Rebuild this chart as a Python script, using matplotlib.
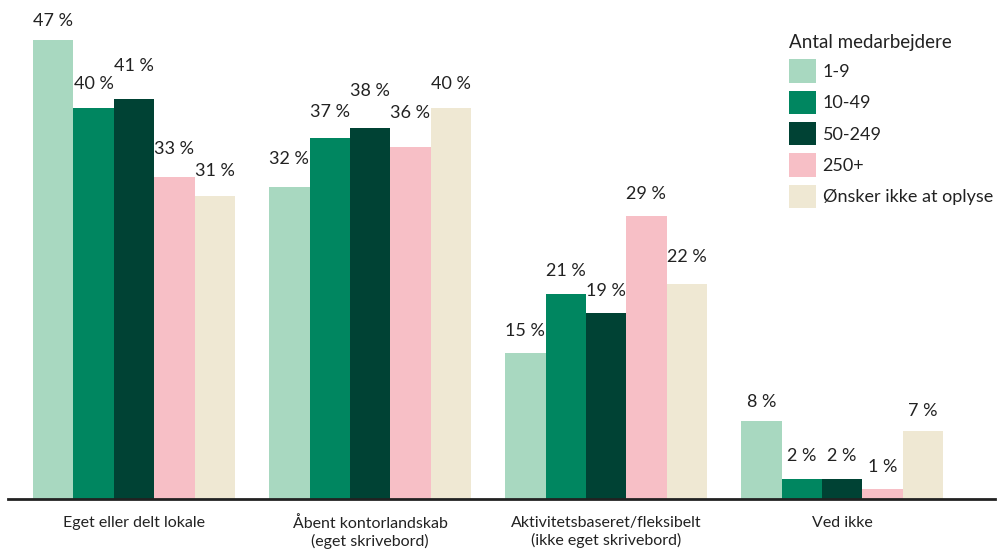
import matplotlib
matplotlib.use("Agg")
import matplotlib.pyplot as plt
import numpy as np

categories = ["Eget eller delt lokale", "Åbent kontorlandskab\n(eget skrivebord)",
              "Aktivitetsbaseret/fleksibelt\n(ikke eget skrivebord)", "Ved ikke"]
series = ["1-9", "10-49", "50-249", "250+", "Ønsker ikke at oplyse"]
values = [
    [47, 32, 15, 8],
    [40, 37, 21, 2],
    [41, 38, 19, 2],
    [33, 36, 29, 1],
    [31, 40, 22, 7],
]
colors = ["#a8d8c0", "#008660", "#004234", "#f7bfc6", "#efe8d3"]

# label lift above each bar (pixels), nudged where labels would collide
label_lift = [
    [19, 28, 22, 19],
    [24, 26, 23, 23],
    [33, 37, 22, 23],
    [28, 34, 22, 22],
    [25, 24, 27, 20],
]

plt.rcParams["font.family"] = ["Lato", "DejaVu Sans"]

fig = plt.figure(figsize=(10.07, 5.52), dpi=100)
ax = fig.add_axes([8 / 1007, 53 / 552, 987 / 1007, 499 / 552])

x = np.arange(len(categories))
w = 0.171
for i, (name, vals, c) in enumerate(zip(series, values, colors)):
    pos = x + (i - 2) * w
    ax.bar(pos, vals, width=w, color=c, label=name)
    for p, v, lift in zip(pos, vals, label_lift[i]):
        ax.annotate(f"{v} %", (p, v), xytext=(0, lift * 0.72),
                    textcoords="offset points", ha="center", va="center",
                    fontsize=13, color="#222222")

ax.set_xlim(-0.534, 3.648)
ax.set_ylim(0, 51.1)
ax.set_yticks([])
for s in ["top", "right", "left"]:
    ax.spines[s].set_visible(False)
ax.spines["bottom"].set_linewidth(2)
ax.spines["bottom"].set_color("#222222")
ax.set_xticks(x)
ax.set_xticklabels(categories, fontsize=11.5, color="#222222", linespacing=1.25)
ax.tick_params(axis="x", length=0, pad=12)

leg = fig.legend(loc="upper left", bbox_to_anchor=(773 / 1007, 1 - 18 / 552),
                 title="Antal medarbejdere", frameon=False, fontsize=13,
                 title_fontsize=13.5, handlelength=1.5, handleheight=1.6,
                 labelspacing=0.45, handletextpad=0.35, alignment="left")
for t in leg.get_texts():
    t.set_color("#222222")
leg.get_title().set_color("#222222")

fig.savefig("out.png", dpi=100)
